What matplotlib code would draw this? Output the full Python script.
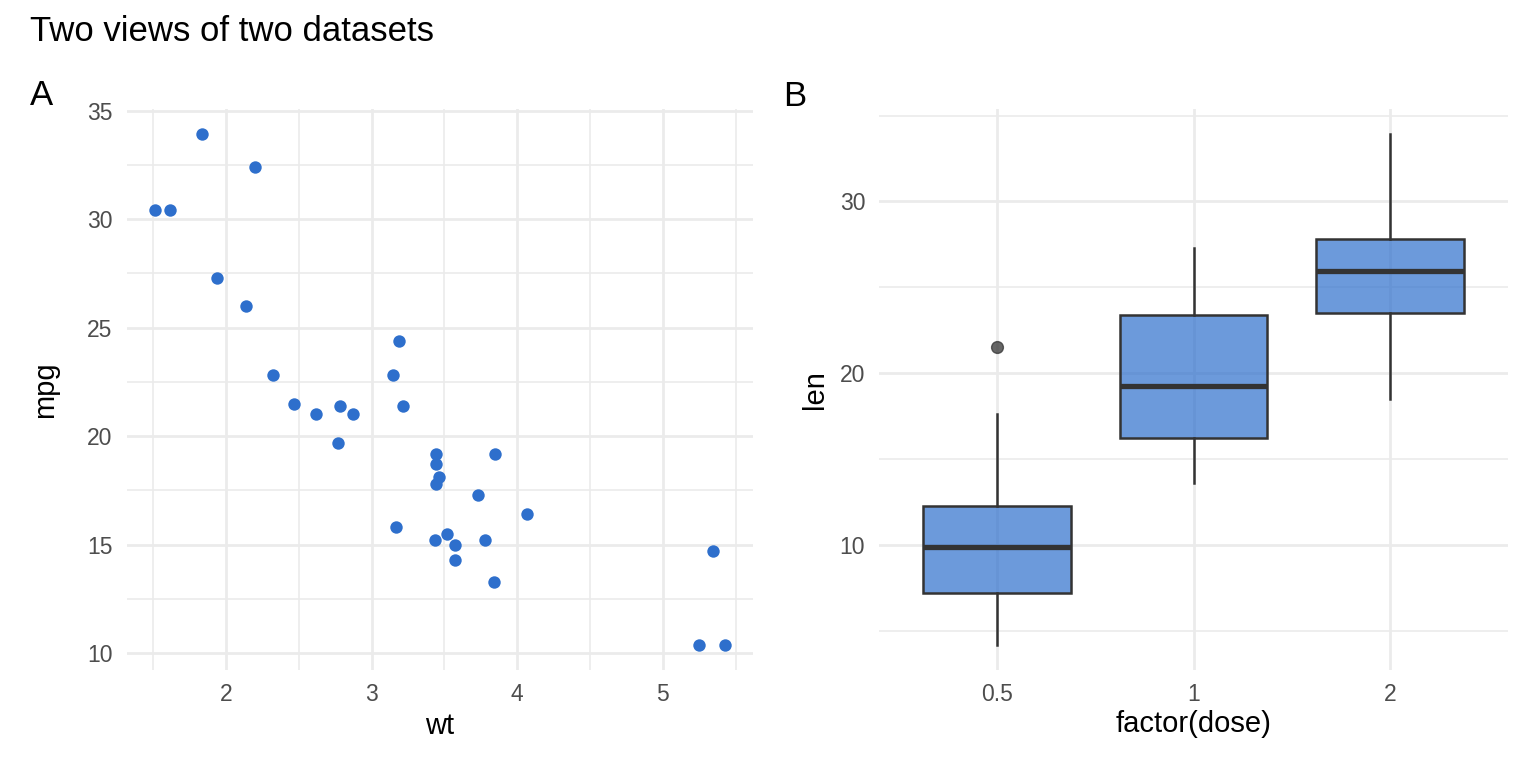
"""
Two views of two datasets: mtcars (wt vs mpg) and ToothGrowth (len by dose).
"""

import numpy as np
import matplotlib
matplotlib.use("Agg")
import matplotlib.pyplot as plt
from matplotlib.ticker import MultipleLocator


# ── data ────────────────────────────────────────────────
car_wt = [2.620, 2.875, 2.320, 3.215, 3.440, 3.460, 3.570, 3.190, 3.150, 3.440,
          3.440, 4.070, 3.730, 3.780, 5.250, 5.424, 5.345, 2.200, 1.615, 1.835,
          2.465, 3.520, 3.435, 3.840, 3.845, 1.935, 2.140, 1.513, 3.170, 2.770,
          3.570, 2.780]
car_mpg = [21.0, 21.0, 22.8, 21.4, 18.7, 18.1, 14.3, 24.4, 22.8, 19.2,
           17.8, 16.4, 17.3, 15.2, 10.4, 10.4, 14.7, 32.4, 30.4, 33.9,
           21.5, 15.5, 15.2, 13.3, 19.2, 27.3, 26.0, 30.4, 15.8, 19.7,
           15.0, 21.4]

dose_labels = ["0.5", "1", "2"]
len_05 = [4.2, 11.5, 7.3, 5.8, 6.4, 10.0, 11.2, 11.2, 5.2, 7.0,
          15.2, 21.5, 17.6, 9.7, 14.5, 10.0, 8.2, 9.4, 16.5, 9.7]
len_1 = [16.5, 16.5, 15.2, 17.3, 22.5, 17.3, 13.6, 14.5, 18.8, 15.5,
         19.7, 23.3, 23.6, 26.4, 20.0, 25.2, 25.8, 21.2, 14.5, 27.3]
len_2 = [23.6, 18.5, 33.9, 25.5, 26.4, 32.5, 26.7, 21.5, 23.3, 29.5,
         25.5, 26.4, 22.4, 24.5, 24.8, 30.9, 26.4, 27.3, 29.4, 23.0]

# ── style ───────────────────────────────────────────────
BLUE = "#2E6FCC"
GRID = "#EBEBEB"
TICK = "#4D4D4D"
EDGE = "#333333"
FONT = "Liberation Sans"

plt.rcParams["font.family"] = FONT


def expand(lo, hi, frac=0.05):
    pad = (hi - lo) * frac
    return lo - pad, hi + pad


def minimal(ax):
    for s in ax.spines.values():
        s.set_visible(False)
    ax.set_axisbelow(True)
    ax.grid(True, which="major", color=GRID, linewidth=2.0)
    ax.grid(True, which="minor", color=GRID, linewidth=1.2)
    ax.tick_params(which="both", length=0, labelsize=16.5, labelcolor=TICK)
    ax.tick_params(axis="y", pad=10)
    ax.tick_params(axis="x", pad=9)


fig = plt.figure(figsize=(15.36, 7.68), dpi=100)
fig.patch.set_facecolor("white")

# ── panel A ─────────────────────────────────────────────
ax1 = fig.add_axes([0.0824, 0.1276, 0.4079, 0.7305])
minimal(ax1)
ax1.scatter(car_wt, car_mpg, s=80, color=BLUE, linewidths=0, zorder=3)
ax1.set_xlim(*expand(min(car_wt), max(car_wt)))
ax1.set_ylim(*expand(min(car_mpg), max(car_mpg)))
ax1.xaxis.set_major_locator(MultipleLocator(1))
ax1.xaxis.set_minor_locator(MultipleLocator(0.5))
ax1.yaxis.set_major_locator(MultipleLocator(5))
ax1.yaxis.set_minor_locator(MultipleLocator(2.5))
ax1.set_xlabel("wt", fontsize=21, labelpad=5)
ax1.set_ylabel("mpg", fontsize=21, labelpad=20)

# ── panel B ─────────────────────────────────────────────
ax2 = fig.add_axes([0.5723, 0.1276, 0.4095, 0.7305])
minimal(ax2)
groups = [len_05, len_1, len_2]
pos = np.arange(1, len(groups) + 1)
ax2.boxplot(
    groups, positions=pos, widths=0.75, patch_artist=True,
    boxprops=dict(facecolor=BLUE, edgecolor=EDGE, linewidth=1.8),
    medianprops=dict(color=EDGE, linewidth=3.8),
    whiskerprops=dict(color=EDGE, linewidth=1.8),
    capprops=dict(linewidth=0),
    flierprops=dict(marker="o", markersize=8.5, markerfacecolor=EDGE,
                    markeredgecolor=EDGE, alpha=0.75),
    zorder=3,
)
for b in ax2.patches:
    b.set_edgecolor(EDGE)
    b.set_facecolor((0x2E / 255, 0x6F / 255, 0xCC / 255, 0.7))
ax2.set_xlim(0.4, len(groups) + 0.6)
all_len = len_05 + len_1 + len_2
ax2.set_ylim(*expand(min(all_len), max(all_len)))
ax2.set_xticks(pos)
ax2.set_xticklabels(dose_labels)
ax2.yaxis.set_major_locator(MultipleLocator(10))
ax2.yaxis.set_minor_locator(MultipleLocator(5))
ax2.xaxis.grid(False, which="minor")
ax2.set_xlabel("factor(dose)", fontsize=21, labelpad=3)
ax2.set_ylabel("len", fontsize=21, labelpad=8)

# ── titles / tags ──────────────────────────────────────
fig.text(30 / 1536, 1 - 41 / 768, "Two views of two datasets", fontsize=25,
         ha="left", va="baseline")
fig.text(30 / 1536, 1 - 105 / 768, "A", fontsize=25, ha="left", va="baseline")
fig.text(783 / 1536, 1 - 106 / 768, "B", fontsize=25, ha="left", va="baseline")

plt.savefig("out.png", dpi=100)
plt.close()
